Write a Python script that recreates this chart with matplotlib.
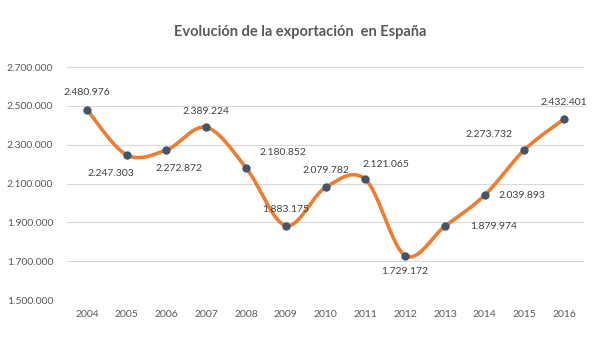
import matplotlib
matplotlib.use("Agg")
import matplotlib.pyplot as plt
import numpy as np

plt.rcParams["font.family"] = ["Lato", "DejaVu Sans"]

years = ["2004", "2005", "2006", "2007", "2008", "2009", "2010",
         "2011", "2012", "2013", "2014", "2015", "2016"]
exports = [2480976, 2247303, 2272872, 2389224, 2180852, 1883175, 2079782,
           2121065, 1729172, 1879974, 2039893, 2273732, 2432401]
yticks = [1500000, 1700000, 1900000, 2100000, 2300000, 2500000, 2700000]

# label offsets in pixels (dx, dy)
offsets = [(0, 17), (-16, -19), (13, -19), (0, 16), (37, 15), (0, 16), (0, 17),
           (21, 15), (0, -16), (49, 0), (37, 0), (-35, 15), (0, 16)]


def fmt(v):
    return f"{v:,}".replace(",", ".")


def smooth(x, y, n=30):
    # catmull-rom, like excel's smoothed line
    x = np.asarray(x, float)
    y = np.asarray(y, float)
    px = np.concatenate([[x[0]], x, [x[-1]]])
    py = np.concatenate([[y[0]], y, [y[-1]]])
    xs, ys = [], []
    t = np.linspace(0, 1, n)
    for i in range(1, len(px) - 2):
        p0, p1, p2, p3 = (np.array([px[j], py[j]]) for j in range(i - 1, i + 3))
        c1 = p1 + (p2 - p0) / 6
        c2 = p2 - (p3 - p1) / 6
        b = (np.outer((1 - t) ** 3, p1) + np.outer(3 * (1 - t) ** 2 * t, c1)
             + np.outer(3 * (1 - t) * t ** 2, c2) + np.outer(t ** 3, p2))
        xs.extend(b[:, 0])
        ys.extend(b[:, 1])
    return xs, ys


fig = plt.figure(figsize=(6.12, 3.49), dpi=100)
ax = fig.add_axes([0.1095, 0.1404, 0.845, 0.6676])

x = np.arange(len(years))
sx, sy = smooth(x, exports)
ax.plot(sx, sy, color="#ED7D31", lw=2.6, solid_capstyle="round", zorder=3)
ax.plot(x, exports, "o", color="#44546A", ms=5, zorder=4)

for xi, v, (dx, dy) in zip(x, exports, offsets):
    ax.annotate(fmt(v), xy=(xi, v), xytext=(dx, dy), textcoords="offset pixels",
                ha="center", va="center", fontsize=7.5, color="#404040", zorder=5)

ax.set_xlim(-0.5, len(years) - 0.5)
ax.set_ylim(1500000, 2700000)
ax.set_xticks(x)
ax.set_xticklabels(years)
ax.set_yticks(yticks)
ax.set_yticklabels([fmt(v) for v in yticks])
ax.tick_params(length=0, labelsize=7.5, labelcolor="#595959")
ax.tick_params(axis="x", pad=7)
ax.tick_params(axis="y", pad=10)
ax.grid(axis="y", color="#D9D9D9", lw=0.8)
ax.set_axisbelow(True)
for s in ax.spines.values():
    s.set_visible(False)

fig.text(0.49, 0.908, "Evolución de la exportación  en España", ha="center", va="center",
         fontsize=10.5, fontweight="bold", color="#595959")

fig.savefig("out.png", dpi=100)
